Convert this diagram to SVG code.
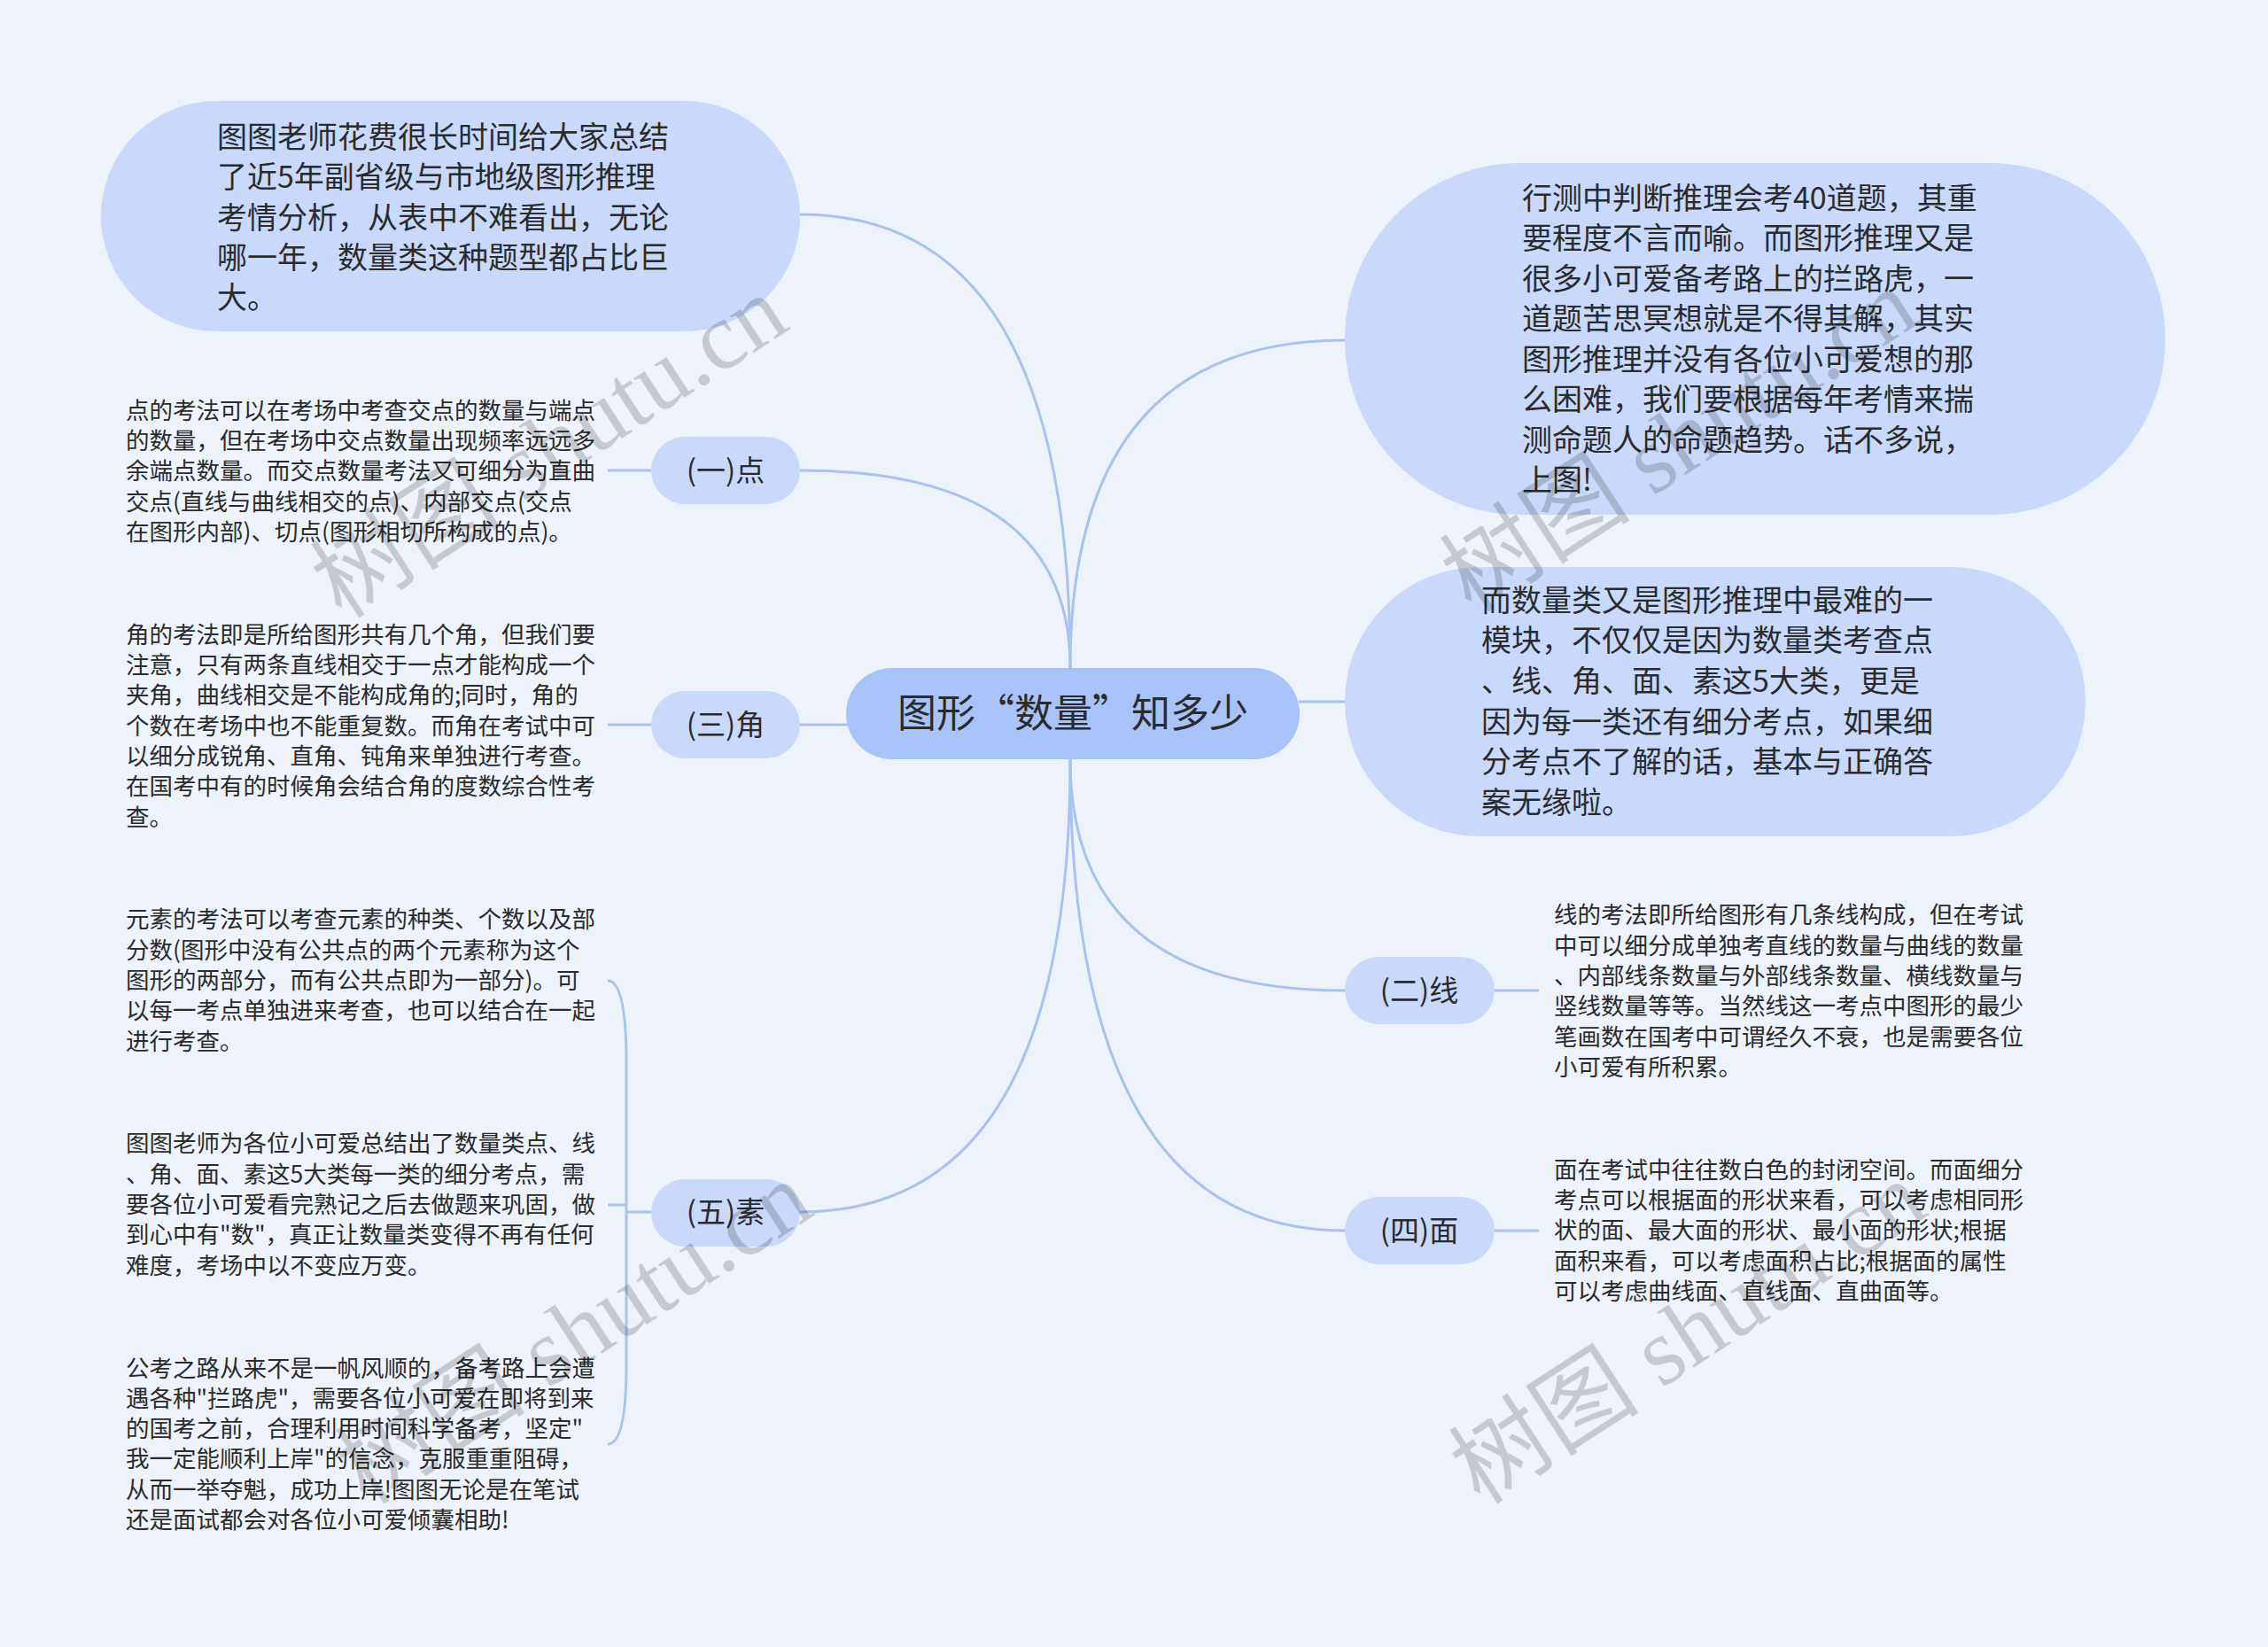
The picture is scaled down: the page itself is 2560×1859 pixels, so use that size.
<svg xmlns="http://www.w3.org/2000/svg" width="2560" height="1859" viewBox="0 0 2560 1859">
<style>
.bg{fill:#eef3fb}
.bubble{fill:#c9d9fb}
.center{fill:#a8c3f8}
.lbl{fill:#c9d9fb}
.t{font-family:"Noto Sans CJK SC","Noto Sans",sans-serif;fill:#2b2b2b}
.big{font-size:34px}
.desc{font-size:26.5px}
.nl{font-size:33px;text-anchor:middle}
.ct{font-size:44px;text-anchor:middle}
.conn{fill:none;stroke:#a8c3f0;stroke-width:3}
.wm{font-family:"Liberation Serif","Noto Sans CJK SC",serif;font-size:108px;fill:#000;fill-opacity:0.17;text-anchor:middle}
</style>
<rect class="bg" x="0" y="0" width="2560" height="1859"/>
<g id="connectors">
<path class="conn" d="M903 242 Q1208 242 1208 754"/>
<path class="conn" d="M903 531 Q1208 531 1208 754"/>
<path class="conn" d="M903 818 L958 818"/>
<path class="conn" d="M903 1368 Q1208 1368 1208 857"/>
<path class="conn" d="M1518 384 Q1208 384 1208 754"/>
<path class="conn" d="M1466 792 L1518 792"/>
<path class="conn" d="M1518 1118 Q1208 1118 1208 857"/>
<path class="conn" d="M1518 1389 Q1208 1389 1208 857"/>
<path class="conn" d="M686 531 L735 531"/>
<path class="conn" d="M686 818 L735 818"/>
<path class="conn" d="M1687 1118 L1737 1118"/>
<path class="conn" d="M1687 1389 L1737 1389"/>
<path class="conn" d="M686 1107 Q707 1107 707 1200 L707 1540 Q707 1630 686 1630"/>
<path class="conn" d="M686 1360 L707 1360"/>
<path class="conn" d="M707 1368 L735 1368"/>
</g>
<g id="center">
<rect class="center" x="955" y="754" width="512" height="103" rx="51.5"/>
<text class="t ct" x="1211" y="821">图形“数量”知多少</text>
</g>
<g id="note-top-left">
<rect class="bubble" x="114" y="114" width="789" height="260" rx="130"/>
<text class="t big" x="245" y="167">图图老师花费很长时间给大家总结</text>
<text class="t big" x="245" y="212">了近5年副省级与市地级图形推理</text>
<text class="t big" x="245" y="258">考情分析，从表中不难看出，无论</text>
<text class="t big" x="245" y="303">哪一年，数量类这种题型都占比巨</text>
<text class="t big" x="245" y="348">大。</text>
</g>
<g id="note-r1">
<rect class="bubble" x="1518" y="184" width="926" height="397" rx="198"/>
<text class="t big" x="1718" y="236">行测中判断推理会考40道题，其重</text>
<text class="t big" x="1718" y="281">要程度不言而喻。而图形推理又是</text>
<text class="t big" x="1718" y="327">很多小可爱备考路上的拦路虎，一</text>
<text class="t big" x="1718" y="372">道题苦思冥想就是不得其解，其实</text>
<text class="t big" x="1718" y="418">图形推理并没有各位小可爱想的那</text>
<text class="t big" x="1718" y="463">么困难，我们要根据每年考情来揣</text>
<text class="t big" x="1718" y="509">测命题人的命题趋势。话不多说，</text>
<text class="t big" x="1718" y="554">上图!</text>
</g>
<g id="note-r2">
<rect class="bubble" x="1518" y="640" width="836" height="304" rx="152"/>
<text class="t big" x="1672" y="690">而数量类又是图形推理中最难的一</text>
<text class="t big" x="1672" y="735">模块，不仅仅是因为数量类考查点</text>
<text class="t big" x="1672" y="781">、线、角、面、素这5大类，更是</text>
<text class="t big" x="1672" y="827">因为每一类还有细分考点，如果细</text>
<text class="t big" x="1672" y="872">分考点不了解的话，基本与正确答</text>
<text class="t big" x="1672" y="918">案无缘啦。</text>
</g>
<g id="node-dian">
<rect class="lbl" x="735" y="493" width="168" height="76" rx="38"/>
<text class="t nl" x="819" y="543">(一)点</text>
</g>
<g id="desc-dian">
<text class="t desc" x="142" y="473">点的考法可以在考场中考查交点的数量与端点</text>
<text class="t desc" x="142" y="507">的数量，但在考场中交点数量出现频率远远多</text>
<text class="t desc" x="142" y="541">余端点数量。而交点数量考法又可细分为直曲</text>
<text class="t desc" x="142" y="576">交点(直线与曲线相交的点)、内部交点(交点</text>
<text class="t desc" x="142" y="610">在图形内部)、切点(图形相切所构成的点)。</text>
</g>
<g id="node-jiao">
<rect class="lbl" x="735" y="780" width="168" height="76" rx="38"/>
<text class="t nl" x="819" y="830">(三)角</text>
</g>
<g id="desc-jiao">
<text class="t desc" x="142" y="726">角的考法即是所给图形共有几个角，但我们要</text>
<text class="t desc" x="142" y="760">注意，只有两条直线相交于一点才能构成一个</text>
<text class="t desc" x="142" y="794">夹角，曲线相交是不能构成角的;同时，角的</text>
<text class="t desc" x="142" y="829">个数在考场中也不能重复数。而角在考试中可</text>
<text class="t desc" x="142" y="863">以细分成锐角、直角、钝角来单独进行考查。</text>
<text class="t desc" x="142" y="897">在国考中有的时候角会结合角的度数综合性考</text>
<text class="t desc" x="142" y="932">查。</text>
</g>
<g id="node-su">
<rect class="lbl" x="735" y="1331" width="168" height="76" rx="38"/>
<text class="t nl" x="819" y="1380">(五)素</text>
</g>
<g id="desc-su-1">
<text class="t desc" x="142" y="1047">元素的考法可以考查元素的种类、个数以及部</text>
<text class="t desc" x="142" y="1082">分数(图形中没有公共点的两个元素称为这个</text>
<text class="t desc" x="142" y="1116">图形的两部分，而有公共点即为一部分)。可</text>
<text class="t desc" x="142" y="1150">以每一考点单独进来考查，也可以结合在一起</text>
<text class="t desc" x="142" y="1185">进行考查。</text>
</g>
<g id="desc-su-2">
<text class="t desc" x="142" y="1300">图图老师为各位小可爱总结出了数量类点、线</text>
<text class="t desc" x="142" y="1335">、角、面、素这5大类每一类的细分考点，需</text>
<text class="t desc" x="142" y="1369">要各位小可爱看完熟记之后去做题来巩固，做</text>
<text class="t desc" x="142" y="1403">到心中有"数"，真正让数量类变得不再有任何</text>
<text class="t desc" x="142" y="1438">难度，考场中以不变应万变。</text>
</g>
<g id="desc-su-3">
<text class="t desc" x="142" y="1554">公考之路从来不是一帆风顺的，备考路上会遭</text>
<text class="t desc" x="142" y="1588">遇各种"拦路虎"，需要各位小可爱在即将到来</text>
<text class="t desc" x="142" y="1622">的国考之前，合理利用时间科学备考，坚定"</text>
<text class="t desc" x="142" y="1656">我一定能顺利上岸"的信念，克服重重阻碍，</text>
<text class="t desc" x="142" y="1691">从而一举夺魁，成功上岸!图图无论是在笔试</text>
<text class="t desc" x="142" y="1725">还是面试都会对各位小可爱倾囊相助!</text>
</g>
<g id="node-xian">
<rect class="lbl" x="1518" y="1080" width="169" height="76" rx="38"/>
<text class="t nl" x="1602" y="1130">(二)线</text>
</g>
<g id="desc-xian">
<text class="t desc" x="1754" y="1042">线的考法即所给图形有几条线构成，但在考试</text>
<text class="t desc" x="1754" y="1077">中可以细分成单独考直线的数量与曲线的数量</text>
<text class="t desc" x="1754" y="1111">、内部线条数量与外部线条数量、横线数量与</text>
<text class="t desc" x="1754" y="1145">竖线数量等等。当然线这一考点中图形的最少</text>
<text class="t desc" x="1754" y="1180">笔画数在国考中可谓经久不衰，也是需要各位</text>
<text class="t desc" x="1754" y="1214">小可爱有所积累。</text>
</g>
<g id="node-mian">
<rect class="lbl" x="1518" y="1351" width="169" height="76" rx="38"/>
<text class="t nl" x="1602" y="1401">(四)面</text>
</g>
<g id="desc-mian">
<text class="t desc" x="1754" y="1330">面在考试中往往数白色的封闭空间。而面细分</text>
<text class="t desc" x="1754" y="1364">考点可以根据面的形状来看，可以考虑相同形</text>
<text class="t desc" x="1754" y="1398">状的面、最大面的形状、最小面的形状;根据</text>
<text class="t desc" x="1754" y="1433">面积来看，可以考虑面积占比;根据面的属性</text>
<text class="t desc" x="1754" y="1467">可以考虑曲线面、直线面、直曲面等。</text>
</g>
<g id="watermarks">
<text class="wm" x="640" y="535" transform="rotate(-33 640 535)">树图 shutu.cn</text>
<text class="wm" x="668" y="1535" transform="rotate(-33 668 1535)">树图 shutu.cn</text>
<text class="wm" x="1915" y="528" transform="rotate(-33 1915 528)">树图 shutu.cn</text>
<text class="wm" x="1925" y="1535" transform="rotate(-33 1925 1535)">树图 shutu.cn</text>
</g>
</svg>
